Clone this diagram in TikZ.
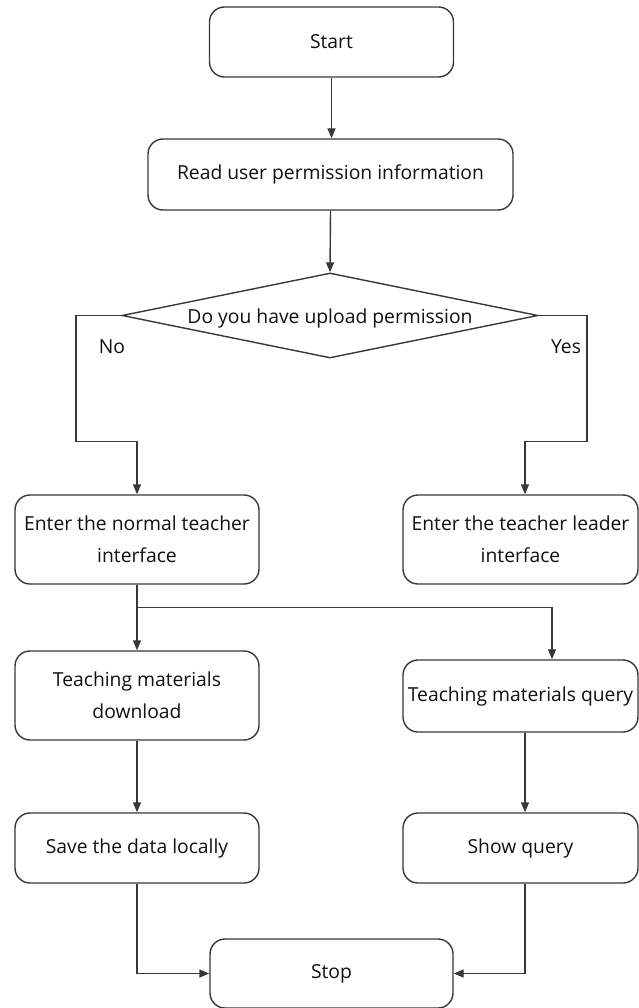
\documentclass[tikz,border=0pt]{standalone}
\usepackage{fontspec}
\setmainfont{Open Sans}
\usetikzlibrary{arrows.meta,shapes.geometric}
\definecolor{edge}{HTML}{383838}
\definecolor{ink}{HTML}{101010}
\tikzset{
  box/.style={draw=edge, line width=1.4pt, rounded corners=15pt, fill=white,
              minimum width=#1, align=center, text=ink, inner sep=0pt},
  box/.default=244pt,
  decision/.style={diamond, draw=edge, line width=1.4pt, fill=white,
                   minimum width=416pt, minimum height=85pt, inner sep=0pt},
  arr/.style={draw=edge, line width=1.4pt,
              -{Triangle[length=10pt,width=8pt]}},
  lbl/.style={text=ink, inner sep=0pt}
}
\begin{document}
\begin{tikzpicture}[x=1pt,y=-1pt,font=\fontsize{19.3}{31.5}\selectfont]
\clip (0,0) rectangle (639,1008);

% process steps
\node[box, minimum height=70pt] (start) at (331.5,42) {Start};
\node[box=365pt, minimum height=71pt] (read) at (330.5,174.5) {Read user permission information};
\node[decision] (dia) at (330,315.5) {};
\node[lbl] (diatext) at (330,318) {Do you have upload permission};

\node[box, minimum height=89pt] (norm) at (137,539.5) {Enter the normal teacher\\interface};
\node[box=235pt, minimum height=89pt] (lead) at (520.5,539.5) {Enter the teacher leader\\interface};

\node[box, minimum height=89pt] (down) at (137,695.5) {Teaching materials\\download};
\node[box=235pt, minimum height=72pt] (query) at (520.5,696) {Teaching materials query};

\node[box, minimum height=70pt] (save) at (137,848) {Save the data locally};
\node[box=235pt, minimum height=70pt] (show) at (520.5,848) {Show query};

\node[box=243pt, minimum height=69pt] (stop) at (331.5,973.5) {Stop};

% branch labels
\node[lbl] (no) at (112,347) {No};
\node[lbl] (yes) at (566,347) {Yes};

% routing points
\coordinate (nobend) at (76,441.7);
\coordinate (yesbend) at (587,441.7);
\coordinate (branch) at (137,607.7);

% connectors
\draw[arr] (start.south) -- (start.south |- read.north);
\draw[arr] (read.south) -- (dia.north);
\draw[arr] (dia.west) -| (nobend) -| (norm.north);
\draw[arr] (dia.east) -| (yesbend) -| ([xshift=4.5pt]lead.north);
\draw[arr] (norm.south) -- (down.north);
\draw[arr] (branch) -| ([xshift=31.5pt]query.north);
\draw[arr] (down.south) -- (save.north);
\draw[arr] ([xshift=4.5pt]query.south) -- ([xshift=4.5pt]show.north);
\draw[arr] (save.south) |- (stop.west);
\draw[arr] ([xshift=4.5pt]show.south) |- (stop.east);
\end{tikzpicture}
\end{document}
